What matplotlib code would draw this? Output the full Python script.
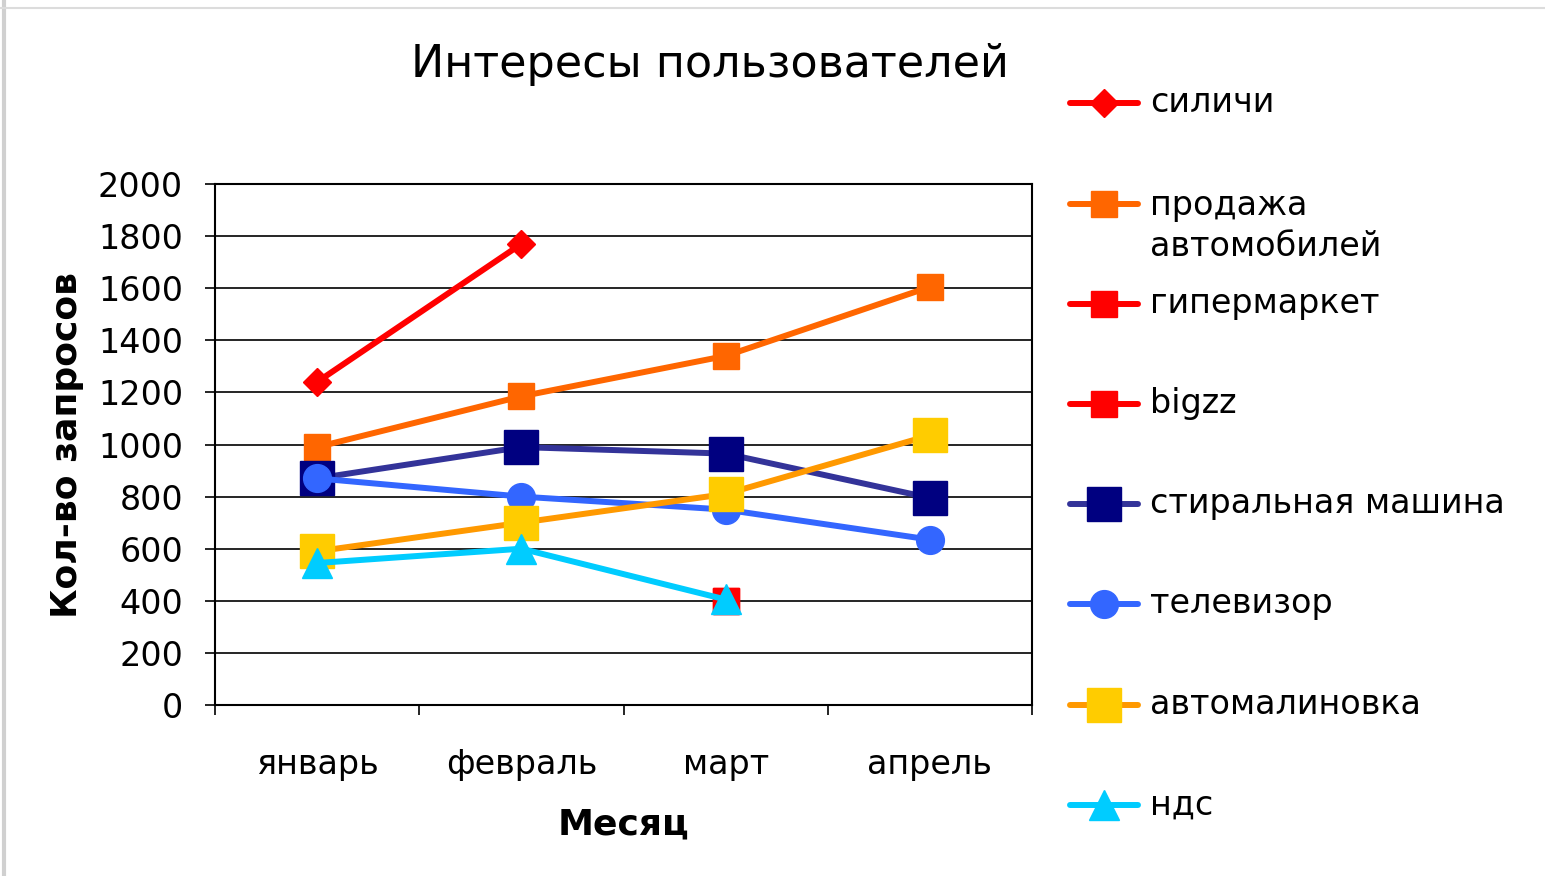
import numpy as np
import matplotlib
matplotlib.use('Agg')
import matplotlib.pyplot as plt
from matplotlib.lines import Line2D

plt.rcParams['font.family'] = ['DejaVu Sans']

months = ['январь', 'февраль', 'март', 'апрель']

# значения по месяцам, nan = нет данных
silichi = [1240, 1770, np.nan, np.nan]
prodazha = [990, 1185, 1340, 1605]
gipermarket = [np.nan, np.nan, 400, np.nan]
bigzz = [np.nan, np.nan, 400, np.nan]
stiralka = [870, 990, 965, 795]
televizor = [870, 800, 750, 635]
avtomalinovka = [590, 700, 810, 1035]
nds = [545, 600, 405, np.nan]

series = [
    ('силичи', silichi, '#FF0000', '#FF0000', 'D', 14),
    ('продажа\nавтомобилей', prodazha, '#FF6600', '#FF6600', 's', 19),
    ('гипермаркет', gipermarket, '#FF0000', '#FF0000', 's', 19),
    ('bigzz', bigzz, '#FF0000', '#FF0000', 's', 19),
    ('стиральная машина', stiralka, '#333399', '#000080', 's', 25),
    ('телевизор', televizor, '#3366FF', '#3366FF', 'o', 20),
    ('автомалиновка', avtomalinovka, '#FF9900', '#FFCC00', 's', 25),
    ('ндс', nds, '#00CCFF', '#00CCFF', '^', 22),
]

W, H = 1545, 876
fig = plt.figure(figsize=(W / 100, H / 100), dpi=100)
ax = fig.add_axes([215 / W, 1 - 705 / H, (1032 - 215) / W, (705 - 184) / H])

x = np.arange(len(months))
for name, vals, lc, mc, mk, ms in series:
    ax.plot(x, vals, color=lc, lw=4.3, marker=mk, markersize=ms,
            markerfacecolor=mc, markeredgecolor=mc, solid_capstyle='round')

ax.set_xlim(-0.5, 3.5)
ax.set_ylim(0, 2000)
ax.set_yticks(np.arange(0, 2001, 200))
ax.yaxis.grid(True, color='black', lw=1.2)
ax.set_axisbelow(True)

ax.set_xticks(np.arange(-0.5, 3.6, 1))
ax.set_xticklabels([])
ax.set_xticks(x, minor=True)
ax.set_xticklabels(months, minor=True)
ax.tick_params(axis='x', which='minor', length=0, pad=31, labelsize=24)
ax.tick_params(axis='x', which='major', length=7, width=1.2)
ax.tick_params(axis='y', length=7, width=1.2, labelsize=24, pad=16)
for s in ax.spines.values():
    s.set_linewidth(1.5)

ax.set_xlabel('Месяц', fontsize=26, fontweight='bold', labelpad=19)
ax.set_ylabel('Кол-во запросов', fontsize=26, fontweight='bold', labelpad=10)

fig.text(710 / W, 1 - 65 / H, 'Интересы пользователей', fontsize=32,
         ha='center', va='center')

# легенда вручную: строки через ~100 px, двухстрочная подпись не сдвигает остальные
row_y = [103, 204, 304, 404, 504, 604, 705, 805]
for (name, vals, lc, mc, mk, ms), ry in zip(series, row_y):
    yy = 1 - ry / H
    fig.add_artist(Line2D([1070 / W, 1138 / W], [yy, yy], color=lc, lw=4.3,
                          solid_capstyle='round'))
    fig.add_artist(Line2D([1104 / W], [yy], marker=mk, markersize=ms,
                          markerfacecolor=mc, markeredgecolor=mc, color=lc))
    ty = yy - (22 / H if '\n' in name else 0)
    fig.text(1150 / W, ty, name, fontsize=24, ha='left', va='center',
             linespacing=1.3)

# рамка слайда
fig.add_artist(Line2D([4 / W, 4 / W], [0, 1], color='#d0d0d0', lw=3))
fig.add_artist(Line2D([0, 1], [1 - 8 / H, 1 - 8 / H], color='#dcdcdc', lw=1.5))

fig.savefig('out.png', dpi=100)
